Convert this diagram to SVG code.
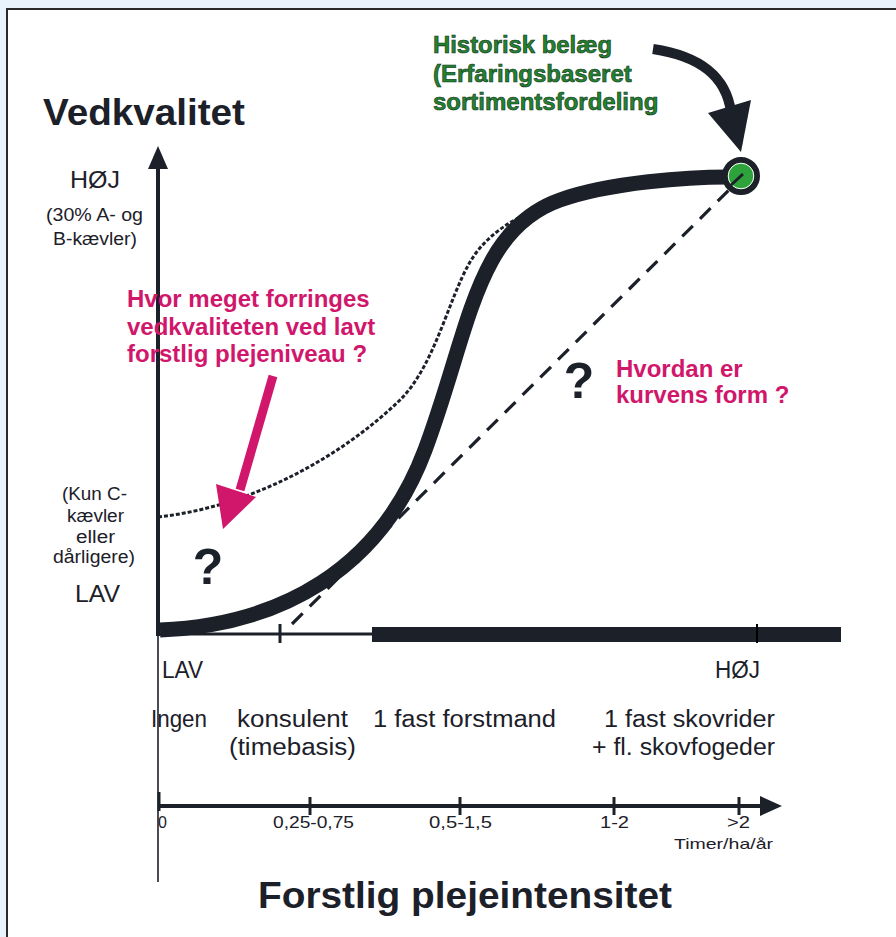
<svg xmlns="http://www.w3.org/2000/svg" width="896" height="937" viewBox="0 0 896 937">
<style>
text{font-family:"Liberation Sans",Arial,sans-serif;fill:#1c2029}
.b{font-weight:bold}
.n{font-size:23px}
.s{font-size:18px}
.t{font-size:16px}
.mag{fill:#d0176c;font-weight:bold;font-size:24px}
.grn{fill:#23822f;stroke:#12301a;stroke-width:0.6;font-weight:bold;font-size:24px}
.q{font-weight:bold;font-size:50px;text-anchor:middle}
.ln{stroke:#1c2029;fill:none}
</style>
<rect x="0" y="0" width="896" height="937" fill="#e8f3fb"/>
<rect x="7" y="9" width="900" height="940" fill="#ffffff" stroke="#2a2a2a" stroke-width="2"/>

<g id="connectors">
  <line class="ln" x1="158" y1="636" x2="158" y2="165" stroke-width="4"/>
  <polygon points="158,146 148,169 168,169" fill="#1c2029"/>
  <line class="ln" x1="158" y1="636" x2="158" y2="882" stroke-width="1.6"/>
  <line class="ln" x1="158" y1="634" x2="374" y2="634" stroke-width="3"/>
  <rect x="372" y="627" width="469" height="15" fill="#1c2029"/>
  <line class="ln" x1="280" y1="624" x2="280" y2="643" stroke-width="3"/>
  <line x1="757" y1="624" x2="757" y2="643" stroke="#000" stroke-width="2"/>
  <line class="ln" x1="292" y1="624" x2="738" y2="181" stroke-width="3.2" stroke-dasharray="15 10"/>
  <path class="ln" d="M158,517 C250,507 340,458 400,400 C435,365 448,300 470,262 C490,228 530,207 585,194" stroke-width="3" stroke-dasharray="4 2"/>
  <path class="ln" d="M160,630 C280,625 380,570 425,450 C470,330 475,230 560,200 C610,182 690,177 728,177" stroke-width="15"/>
  <line class="ln" x1="158" y1="806" x2="762" y2="806" stroke-width="4"/>
  <polygon points="782,806 760,796 760,816" fill="#1c2029"/>
  <line class="ln" x1="159" y1="792" x2="159" y2="811" stroke-width="3"/>
  <line class="ln" x1="310" y1="797" x2="310" y2="815" stroke-width="3"/>
  <line class="ln" x1="460" y1="797" x2="460" y2="815" stroke-width="3"/>
  <line class="ln" x1="614" y1="797" x2="614" y2="815" stroke-width="3"/>
  <line class="ln" x1="739" y1="797" x2="739" y2="815" stroke-width="3"/>
  <path class="ln" d="M653,49 C700,56 726,76 731,112" stroke-width="10"/>
  <polygon points="708,113 751,100 741,152" fill="#1c2029"/>
  <line x1="273" y1="376" x2="240" y2="490" stroke="#d0176c" stroke-width="9"/>
  <polygon points="216,484 256,497 223,529" fill="#d0176c"/>
</g>

<g id="node-historic">
  <circle cx="741" cy="176" r="16" fill="#2ea33c" stroke="#1c2029" stroke-width="6"/>
  <circle cx="741" cy="176" r="12.8" fill="none" stroke="#ffffff" stroke-width="1"/>
  <line x1="743" y1="174" x2="730" y2="186" stroke="#1c2029" stroke-width="3"/>
</g>

<g id="title-y"><text class="b" x="43" y="125" font-size="37" textLength="202" lengthAdjust="spacingAndGlyphs">Vedkvalitet</text></g>
<g id="title-x"><text class="b" x="258" y="908" font-size="37" textLength="414" lengthAdjust="spacingAndGlyphs">Forstlig plejeintensitet</text></g>

<g id="y-labels">
  <text x="70" y="188" font-size="24" textLength="50" lengthAdjust="spacingAndGlyphs">HØJ</text>
  <text class="s" x="46" y="221" textLength="97" lengthAdjust="spacingAndGlyphs">(30% A- og</text>
  <text class="s" x="53" y="245" textLength="84" lengthAdjust="spacingAndGlyphs">B-kævler)</text>
  <text class="s" x="62" y="500" textLength="65" lengthAdjust="spacingAndGlyphs">(Kun C-</text>
  <text class="s" x="67" y="522" textLength="57" lengthAdjust="spacingAndGlyphs">kævler</text>
  <text class="s" x="76" y="543" textLength="39" lengthAdjust="spacingAndGlyphs">eller</text>
  <text class="s" x="53" y="563" textLength="82" lengthAdjust="spacingAndGlyphs">dårligere)</text>
  <text x="75" y="602" font-size="24" textLength="45" lengthAdjust="spacingAndGlyphs">LAV</text>
</g>

<g id="x-labels">
  <text x="162" y="678" font-size="23" textLength="41" lengthAdjust="spacingAndGlyphs">LAV</text>
  <text x="715" y="678" font-size="23" textLength="45" lengthAdjust="spacingAndGlyphs">HØJ</text>
  <text class="n" x="151" y="727" textLength="56" lengthAdjust="spacingAndGlyphs">Ingen</text>
  <text class="n" x="237" y="727" textLength="111" lengthAdjust="spacingAndGlyphs">konsulent</text>
  <text class="n" x="229" y="755" textLength="127" lengthAdjust="spacingAndGlyphs">(timebasis)</text>
  <text class="n" x="373" y="727" textLength="183" lengthAdjust="spacingAndGlyphs">1 fast forstmand</text>
  <text class="n" x="604" y="727" textLength="171" lengthAdjust="spacingAndGlyphs">1 fast skovrider</text>
  <text class="n" x="592" y="755" textLength="183" lengthAdjust="spacingAndGlyphs">+ fl. skovfogeder</text>
</g>

<g id="scale-labels">
  <text class="t" x="158" y="828">0</text>
  <text class="t" x="273" y="828" textLength="81" lengthAdjust="spacingAndGlyphs">0,25-0,75</text>
  <text class="t" x="429" y="828" textLength="63" lengthAdjust="spacingAndGlyphs">0,5-1,5</text>
  <text class="t" x="600" y="828" textLength="29" lengthAdjust="spacingAndGlyphs">1-2</text>
  <text class="t" x="727" y="828" textLength="23" lengthAdjust="spacingAndGlyphs">&gt;2</text>
  <text x="674" y="849" font-size="15" textLength="99" lengthAdjust="spacingAndGlyphs">Timer/ha/år</text>
</g>

<g id="note-historic">
  <text class="grn" x="433" y="53" textLength="179" lengthAdjust="spacingAndGlyphs">Historisk belæg</text>
  <text class="grn" x="433" y="82">(Erfaringsbaseret</text>
  <text class="grn" x="433" y="110">sortimentsfordeling</text>
</g>

<g id="note-question1">
  <text class="mag" x="127" y="307">Hvor meget forringes</text>
  <text class="mag" x="127" y="335">vedkvaliteten ved lavt</text>
  <text class="mag" x="127" y="362">forstlig plejeniveau ?</text>
</g>

<g id="note-question2">
  <text class="mag" x="616" y="377">Hvordan er</text>
  <text class="mag" x="616" y="403">kurvens form ?</text>
</g>

<g id="qmarks">
  <text class="q" x="579" y="398">?</text>
  <text class="q" x="208" y="584">?</text>
</g>
</svg>
